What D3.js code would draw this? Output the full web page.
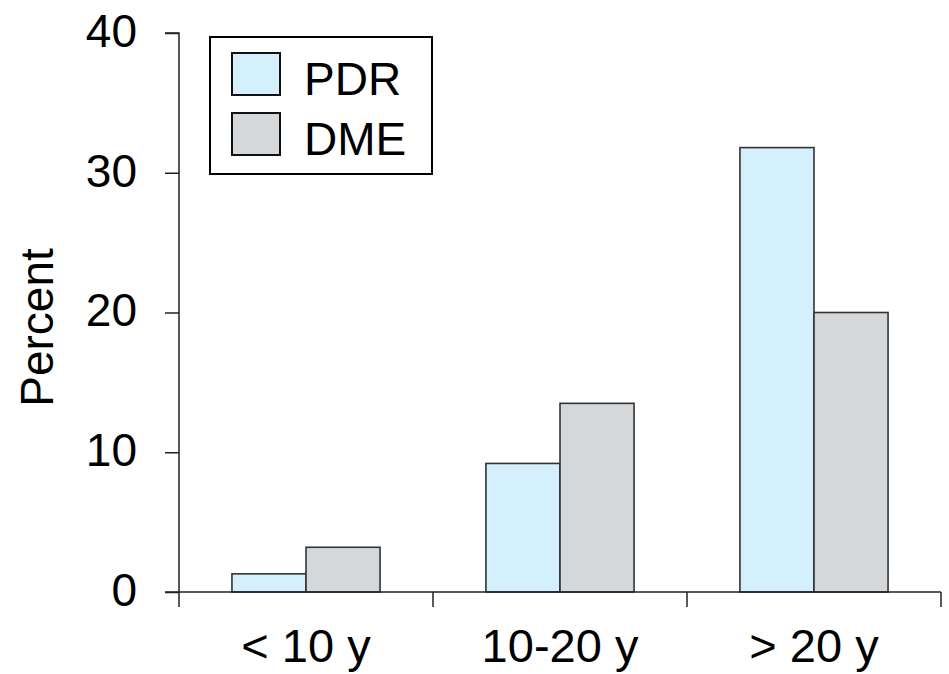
<!DOCTYPE html>
<html>
<head>
<meta charset="utf-8">
<script src="https://cdn.jsdelivr.net/npm/d3@7/dist/d3.min.js"></script>
<style>
  html, body { margin: 0; padding: 0; background: #fff; }
  svg { display: block; }
  text { font-family: Arial, "Liberation Sans", sans-serif; fill: #000; }
</style>
</head>
<body>
<svg id="chart" width="949" height="674"></svg>
<script>
// Duration of diabetes groups
const categories = ["< 10 y", "10-20 y", "> 20 y"];
const seriesNames = ["PDR", "DME"];
const pdrValues = [1.3, 9.2, 31.8];
const dmeValues = [3.2, 13.5, 20.0];
const yTicks = [0, 10, 20, 30, 40];
const seriesColors = ["#d4f0fc", "#d5d8da"];

const svg = d3.select("#chart");
const margin = { left: 179, right: 8, top: 33, bottom: 82 };
const width = 949, height = 674;
const plotBottom = height - margin.bottom; // 592
const plotRight = width - margin.right;    // 941

const x = d3.scaleBand().domain(categories).range([margin.left, plotRight]).paddingInner(0).paddingOuter(0);
const x1 = d3.scaleBand().domain(seriesNames).range([0, x.bandwidth()]).paddingInner(0).paddingOuter(0.715);
const y = d3.scaleLinear().domain([0, 40]).range([plotBottom, margin.top]);

const rows = categories.map((c, i) => ({ cat: c, values: [pdrValues[i], dmeValues[i]] }));

// Bars
const groups = svg.append("g").selectAll("g").data(rows).join("g")
  .attr("transform", d => `translate(${x(d.cat)},0)`);
groups.selectAll("rect").data(d => d.values.map((v, j) => ({ name: seriesNames[j], v, j })))
  .join("rect")
  .attr("x", d => x1(d.name))
  .attr("width", x1.bandwidth())
  .attr("y", d => y(d.v))
  .attr("height", d => plotBottom - y(d.v))
  .attr("fill", d => seriesColors[d.j])
  .attr("stroke", "#333")
  .attr("stroke-width", 1.6);

// Y axis
const yAxis = svg.append("g").attr("transform", `translate(${margin.left},0)`)
  .call(d3.axisLeft(y).tickValues(yTicks).tickSize(14).tickPadding(28).tickFormat(d3.format("d")));
yAxis.select(".domain").attr("d", `M-14,${margin.top}H0V${plotBottom + 15}`).attr("stroke", "#222").attr("stroke-width", 1.5);
yAxis.selectAll(".tick line").attr("stroke", "#222").attr("stroke-width", 1.5);
yAxis.selectAll(".tick text").style("font-size", "46px").attr("font-family", null).attr("dy", "0.29em");

// X axis
const xAxis = svg.append("g").attr("transform", `translate(0,${plotBottom})`)
  .call(d3.axisBottom(x).tickSize(0).tickPadding(0));
xAxis.select(".domain").attr("d", `M${margin.left - 14},0H${plotRight}`).attr("stroke", "#222").attr("stroke-width", 1.5);
xAxis.selectAll(".tick text").style("font-size", "47px").attr("font-family", null).attr("y", 70).attr("dy", 0);
// boundary ticks between categories
const boundaries = categories.map(c => x(c) + x.bandwidth());
xAxis.selectAll("line.sep").data(boundaries).join("line").attr("class", "sep")
  .attr("x1", d => d).attr("x2", d => d).attr("y1", 0).attr("y2", 15)
  .attr("stroke", "#222").attr("stroke-width", 1.5);

// Y axis title
svg.append("text")
  .attr("transform", `translate(53,${(margin.top + plotBottom) / 2 + 15}) rotate(-90)`)
  .attr("text-anchor", "middle")
  .style("font-size", "46px")
  .text("Percent");

// Legend
const legend = svg.append("g");
legend.append("rect").attr("x", 210).attr("y", 37).attr("width", 222).attr("height", 137)
  .attr("fill", "#fff").attr("stroke", "#000").attr("stroke-width", 2);
const items = legend.selectAll("g.item").data(seriesNames).join("g").attr("class", "item")
  .attr("transform", (d, i) => `translate(0,${i * 60})`);
items.append("rect").attr("x", 232).attr("y", 53).attr("width", 48).attr("height", 42)
  .attr("fill", (d, i) => seriesColors[i]).attr("stroke", "#111").attr("stroke-width", 2);
items.append("text").attr("x", 304).attr("y", 95).style("font-size", "46px").text(d => d);
</script>
</body>
</html>
